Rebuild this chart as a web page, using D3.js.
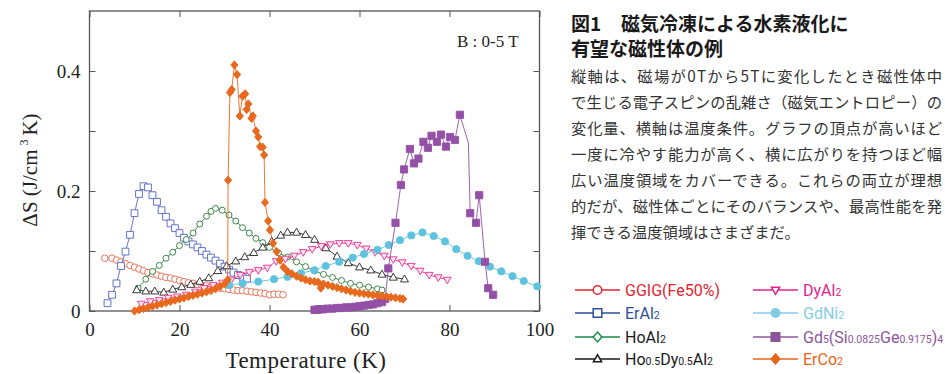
<!DOCTYPE html>
<html><head><meta charset="utf-8">
<script src="https://cdn.jsdelivr.net/npm/d3@7"></script>
<style>body{margin:0;background:#fff;} svg{display:block}</style>
</head><body>
<svg id="c" width="945" height="374"></svg>
<script>
// ---- data (T in K, ΔS in J/cm3 K) ----
const ggig = [[3.4,0.088],[5,0.088],[6,0.085],[7,0.082],[8,0.079],[9,0.076],[10,0.073],[11,0.07],[12,0.067],[13,0.064],[14,0.062],[15,0.06],[16,0.058],[17,0.056],[18,0.055],[19,0.053],[20,0.051],[21,0.049],[22,0.047],[23,0.046],[24,0.044],[25,0.043],[26,0.042],[27,0.04],[28,0.039],[29,0.038],[30,0.037],[31,0.036],[32,0.035],[33,0.034],[34,0.034],[35,0.033],[36,0.032],[37,0.031],[38,0.03],[39,0.029],[40,0.027],[41,0.028],[42,0.028],[43,0.027]];
const erAl2 = [[4,0.013],[5,0.027],[6,0.046],[7,0.075],[8,0.099],[9,0.127],[10,0.163],[11,0.195],[12,0.208],[13,0.206],[14,0.193],[15,0.182],[16,0.168],[17,0.157],[18,0.146],[19,0.138],[20,0.13],[21,0.122],[22,0.116],[23,0.111],[24,0.106],[25,0.1],[26,0.094],[27,0.089],[28,0.084],[29,0.079],[30,0.074],[31,0.069],[32,0.064],[33,0.06],[34,0.057],[35,0.054]];
const hoAl2 = [[10.8,0.038],[12.5,0.053],[14,0.066],[15.5,0.076],[17,0.088],[18.5,0.098],[20,0.109],[21.5,0.119],[23,0.13],[24.5,0.145],[26,0.158],[27,0.166],[28,0.171],[29.5,0.168],[31,0.16],[32.5,0.15],[34,0.139],[35.5,0.13],[37,0.121],[38.5,0.114],[40,0.106],[42,0.097],[44,0.09],[46,0.082],[48,0.074],[50,0.067],[52,0.061],[54,0.056],[56,0.051],[58,0.046],[60,0.043],[62,0.04],[64,0.037],[65,0.035]];
const hoDyAl2 = [[10.5,0.035],[12.5,0.033],[14.5,0.033],[16.5,0.031],[18.5,0.036],[20.5,0.04],[22.5,0.044],[24.5,0.049],[26.5,0.055],[28.5,0.067],[30.5,0.075],[32.5,0.083],[34.5,0.09],[36.5,0.097],[38.5,0.106],[40.5,0.116],[42.5,0.126],[44,0.131],[46,0.131],[48,0.127],[50,0.119],[52.5,0.105],[55,0.091],[57.5,0.08],[60,0.073],[62.5,0.068],[65,0.061],[67.5,0.056],[70,0.053]];
const dyAl2 = [[11.5,0.012],[13.5,0.016],[15.5,0.018],[17.5,0.022],[19.5,0.024],[21.5,0.027],[23.5,0.032],[25.5,0.038],[27.5,0.043],[29.5,0.047],[31.5,0.052],[33.5,0.06],[35.5,0.065],[37.5,0.068],[39.5,0.072],[41.5,0.083],[43.5,0.087],[45.5,0.092],[47.5,0.098],[49.5,0.103],[51.5,0.108],[53.5,0.111],[55.5,0.113],[57.5,0.113],[59.5,0.11],[61.5,0.104],[63.5,0.098],[65.5,0.092],[67.5,0.086],[69.5,0.081],[71.5,0.075],[73.5,0.067],[75.5,0.06],[77.5,0.056],[79.5,0.052]];
const gdNi2 = [[31,0.043],[34,0.046],[37.5,0.049],[41,0.053],[44,0.057],[47,0.063],[50,0.068],[52.5,0.075],[55.5,0.082],[58.5,0.089],[61,0.095],[64,0.102],[66.5,0.11],[69,0.118],[71.5,0.126],[74,0.131],[76.5,0.125],[79,0.116],[81.5,0.103],[84,0.092],[86.5,0.083],[89,0.074],[91.5,0.066],[94,0.058],[96.5,0.05],[99.5,0.041]];
const gdSiGe = [[50,0.002],[50.5,0.002],[51,0.003],[51.5,0.003],[52,0.003],[53,0.004],[54,0.004],[55,0.005],[56,0.005],[57,0.006],[58,0.006],[59,0.007],[60,0.008],[61,0.009],[62,0.01],[63,0.011],[64,0.013],[65,0.015],[65.7,0.02],[66.4,0.071],[68,0.147],[69.2,0.21],[69.9,0.236],[71.2,0.27],[72.1,0.246],[73.1,0.254],[74.2,0.282],[75.2,0.272],[76,0.292],[77.2,0.282],[78.1,0.294],[79.2,0.274],[80.1,0.29],[81.2,0.285],[82.3,0.327],[84.2,0.28],[84.6,0.163],[85.9,0.147],[86.6,0.193],[87.9,0.082],[88.6,0.038],[89.7,0.027]];
const gdSiGeUnmarkedT = [84.2];
const erCo2 = [[10,0.0],[11,0.002],[12,0.004],[13,0.006],[14,0.008],[15,0.01],[16,0.012],[17,0.014],[18,0.016],[19,0.018],[20,0.02],[21,0.022],[22,0.024],[23,0.026],[24,0.028],[25,0.03],[26,0.032],[27,0.034],[28,0.037],[29,0.041],[30,0.045],[30.7,0.052],[30.8,0.218],[31.2,0.364],[31.6,0.369],[32.2,0.41],[32.8,0.394],[33.4,0.325],[34,0.358],[34.6,0.362],[34.9,0.336],[35.3,0.345],[36,0.321],[36.3,0.325],[37,0.3],[37.5,0.29],[37.9,0.274],[38.5,0.273],[38.8,0.26],[39,0.181],[39.7,0.15],[40.1,0.135],[40.8,0.113],[41.6,0.099],[42.3,0.085],[43.1,0.073],[44,0.066],[45,0.062],[46,0.058],[47,0.055],[48,0.052],[49,0.05],[50,0.049],[50.8,0.048],[51.4,0.038],[52,0.045],[53,0.043],[54,0.041],[55,0.039],[56,0.037],[57,0.035],[58,0.033],[59,0.031],[60,0.03],[61,0.029],[62,0.028],[63,0.027],[64,0.026],[65,0.025],[66,0.024],[67,0.023],[68,0.022],[69,0.021],[69.7,0.02]];

const xTicks = [0,20,40,60,80,100];
const yTicks = [0,0.1,0.2,0.3,0.4];
const yTickLabels = {0:"0",0.2:"0.2",0.4:"0.4"};
const fieldNote = "B : 0-5 T";
const xTitle = "Temperature (K)";
const titleLines = ["図1", "磁気冷凍による水素液化に", "有望な磁性体の例"];
const noteLines = [
  "縦軸は、磁場が0Tから5Tに変化したとき磁性体中",
  "で生じる電子スピンの乱雑さ（磁気エントロピー）の",
  "変化量、横軸は温度条件。グラフの頂点が高いほど",
  "一度に冷やす能力が高く、横に広がりを持つほど幅",
  "広い温度領域をカバーできる。これらの両立が理想",
  "的だが、磁性体ごとにそのバランスや、最高性能を発",
  "揮できる温度領域はさまざまだ。"
];
// legend labels: segments [text, isSubscript]
const legendLabels = [
  [["GGIG(Fe50%)",0]],
  [["ErAl",0],["2",1]],
  [["HoAl",0],["2",1]],
  [["Ho",0],["0.5",1],["Dy",0],["0.5",1],["Al",0],["2",1]],
  [["DyAl",0],["2",1]],
  [["GdNi",0],["2",1]],
  [["Gd",0],["5",1],["(Si",0],["0.0825",1],["Ge",0],["0.9175",1],[")",0],["4",1]],
  [["ErCo",0],["2",1]]
];

// ---- styles ----
const series = [
  {data: ggig,    color:"#ea6549", marker:"circle",   fill:"#fff",    r:3.3, lw:0.9},
  {data: erAl2,   color:"#5363c4", marker:"square",   fill:"#fff",    r:3.4, lw:0.9},
  {data: hoAl2,   color:"#2c7a38", marker:"circle",   fill:"#fff",    r:3.0, lw:0.9},
  {data: hoDyAl2, color:"#222222", marker:"triangle", fill:"#fff",    r:4.2, lw:0.9},
  {data: dyAl2,   color:"#e8308f", marker:"triDown",  fill:"#fde3ef", r:4.0, lw:0.9},
  {data: gdNi2,   color:"#5ec3de", marker:"circle",   fill:"#5ec3de", r:3.6, lw:0.9},
  {data: gdSiGe,  color:"#9450a6", marker:"square",   fill:"#9450a6", r:3.6, lw:0.9, skip:gdSiGeUnmarkedT},
  {data: erCo2,   color:"#e8691d", marker:"diamond",  fill:"#e8691d", r:3.6, lw:0.9}
];
const legendStyle = [
  {line:"#e5252f", text:"#e5252f", marker:"circle",   fill:"#fff"},
  {line:"#2b4f9b", text:"#2b4f9b", marker:"square",   fill:"#fff"},
  {line:"#1e8a4b", text:"#1a1a1a", marker:"diamond",  fill:"#fff"},
  {line:"#1a1a1a", text:"#1a1a1a", marker:"triangle", fill:"#fff"},
  {line:"#e4238b", text:"#e4238b", marker:"triDown",  fill:"#fff"},
  {line:"#84cce6", text:"#84cce6", marker:"circle",   fill:"#84cce6"},
  {line:"#8c559c", text:"#8c559c", marker:"square",   fill:"#8c559c"},
  {line:"#e8641b", text:"#e8641b", marker:"diamond",  fill:"#e8641b"}
];

function markerPath(type, r){
  switch(type){
    case "circle": return `M${r},0A${r},${r} 0 1,1 ${-r},0A${r},${r} 0 1,1 ${r},0Z`;
    case "square": return `M${-r},${-r}h${2*r}v${2*r}h${-2*r}Z`;
    case "diamond": return `M0,${-r*1.15}L${r},0L0,${r*1.15}L${-r},0Z`;
    case "triangle": return `M0,${-r}L${r*0.95},${r*0.65}L${-r*0.95},${r*0.65}Z`;
    case "triDown": return `M0,${r}L${r*0.95},${-r*0.65}L${-r*0.95},${-r*0.65}Z`;
  }
}

const svg = d3.select("#c");
const x = d3.scaleLinear().domain([0,100]).range([89.5,539.5]);
const y = d3.scaleLinear().domain([0,0.5]).range([311,11]);
const serif = "'Liberation Serif','Times New Roman',serif";
const axisColor = "#555";

// axes
const gx = svg.append("g").attr("transform","translate(0,311)")
  .call(d3.axisBottom(x).tickValues(xTicks).tickSizeInner(-6).tickSizeOuter(0).tickPadding(12).tickFormat(d3.format("d")));
const gxt = svg.append("g").attr("transform","translate(0,11)")
  .call(d3.axisTop(x).tickValues(xTicks).tickSizeInner(-6).tickSizeOuter(0).tickFormat(""));
const gy = svg.append("g").attr("transform","translate(89.5,0)")
  .call(d3.axisLeft(y).tickValues(yTicks).tickSizeInner(-6).tickSizeOuter(0).tickPadding(9).tickFormat(d => yTickLabels[d] || ""));
const gyr = svg.append("g").attr("transform","translate(539.5,0)")
  .call(d3.axisRight(y).tickValues(yTicks).tickSizeInner(-6).tickSizeOuter(0).tickFormat(""));
[gx,gxt,gy,gyr].forEach(g=>{
  g.select(".domain").remove();
  g.selectAll(".tick line").attr("stroke",axisColor).attr("stroke-width",1);
  g.selectAll("text").attr("font-family",serif).attr("font-size",19).attr("fill","#222");
});
svg.append("rect").attr("x",89.5).attr("y",11).attr("width",450).attr("height",300)
  .attr("fill","none").attr("stroke",axisColor).attr("stroke-width",1.3);

// series
const line = d3.line().x(d=>x(d[0])).y(d=>y(d[1]));
series.forEach(s=>{
  const g = svg.append("g");
  g.append("path").attr("d",line(s.data)).attr("fill","none").attr("stroke",s.color).attr("stroke-width",s.lw);
  const pts = s.data.filter(d=>!(s.skip && s.skip.includes(d[0])));
  g.selectAll("path.m").data(pts).join("path").attr("class","m")
    .attr("transform",d=>`translate(${x(d[0])},${y(d[1])})`)
    .attr("d",markerPath(s.marker,s.r))
    .attr("fill",s.fill).attr("stroke",s.color).attr("stroke-width",0.9);
});

// chart texts
svg.append("text").attr("x",457).attr("y",47).attr("font-family",serif).attr("font-size",17).attr("fill","#222").text(fieldNote);
svg.append("text").attr("x",306).attr("y",368).attr("text-anchor","middle").attr("font-family",serif).attr("font-size",23).attr("letter-spacing",0.5).attr("fill","#222").text(xTitle);
const yl = svg.append("text").attr("transform","translate(37,170) rotate(-90)").attr("text-anchor","middle")
  .attr("font-family",serif).attr("font-size",21).attr("fill","#222");
yl.append("tspan").text("ΔS (J/cm");
yl.append("tspan").attr("dx",4).attr("dy",-9).attr("font-size",12).text("3");
yl.append("tspan").attr("dx",4).attr("dy",9).text("K)");

// right text block
const jp = "'Noto Sans CJK JP','Noto Sans',sans-serif";
const t1 = svg.append("text").attr("y",31).attr("font-family",jp).attr("font-weight","bold").attr("font-size",19).attr("fill","#1a1a1a");
t1.append("tspan").attr("x",571).text(titleLines[0]);
t1.append("tspan").attr("x",621).text(titleLines[1]);
svg.append("text").attr("x",571).attr("y",56).attr("font-family",jp).attr("font-weight","bold").attr("font-size",19).attr("fill","#1a1a1a").text(titleLines[2]);
noteLines.forEach((t,i)=>{
  const el = svg.append("text").attr("x",571).attr("y",82+i*26).attr("font-family",jp).attr("font-size",15.3).attr("fill","#333").text(t);
  if(i<noteLines.length-1) el.attr("textLength",371).attr("lengthAdjust","spacing");
});

// legend
const lg = svg.append("g");
const sans = "Roboto,'Noto Sans',sans-serif";
legendLabels.forEach((segs,i)=>{
  const col = i<4?0:1, row = i%4;
  const x0 = col===0?575:753, cy = [290,313,337,359][row];
  const st = legendStyle[i];
  lg.append("line").attr("x1",x0).attr("x2",x0+45).attr("y1",cy).attr("y2",cy).attr("stroke",st.line).attr("stroke-width",1.5);
  lg.append("path").attr("transform",`translate(${x0+22.5},${cy})`).attr("d",markerPath(st.marker,4.3))
    .attr("fill",st.fill).attr("stroke",st.line).attr("stroke-width",1.5);
  const t = lg.append("text").attr("x",x0+50).attr("y",cy+6).attr("font-family",sans).attr("font-size",16).attr("fill",st.text);
  segs.forEach(([s,sub])=>{
    t.append("tspan").attr("font-size",sub?10.5:16).text(s);
  });
});
</script>
</body></html>
